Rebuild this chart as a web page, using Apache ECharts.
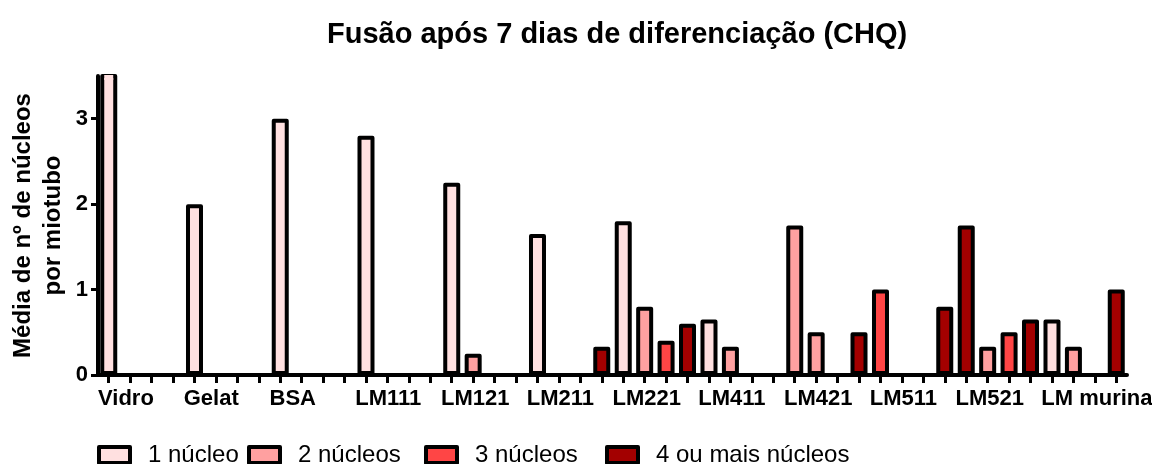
<!DOCTYPE html>
<html>
<head>
<meta charset="utf-8">
<script src="https://cdn.jsdelivr.net/npm/echarts@6/dist/echarts.min.js"></script>
<style>
html, body { margin: 0; padding: 0; background: #fff; }
#chart { width: 1152px; height: 464px; }
</style>
</head>
<body>
<div id="chart"></div>
<script>
// Substrates tested and the mean number of nuclei per myotube, split by nucleus class
const categories = ['Vidro', 'Gelat', 'BSA', 'LM111', 'LM121', 'LM211', 'LM221', 'LM411', 'LM421', 'LM511', 'LM521', 'LM murina'];
const seriesNames = ['1 núcleo', '2 núcleos', '3 núcleos', '4 ou mais núcleos'];
const nucleo1  = [3.6, 2.0, 3.0, 2.8, 2.25, 1.65, 1.8, 0.65, 1.75, 1.0, 1.75, 0.65];
const nucleos2 = [0, 0, 0, 0, 0.25, 0, 0.8, 0.33, 0.5, 0, 0.33, 0.33];
const nucleos3 = [0, 0, 0, 0, 0, 0, 0.4, 0, 0, 0, 0.5, 0];
const nucleos4 = [0, 0, 0, 0, 0, 0.33, 0.6, 0, 0.5, 0.8, 0.65, 1.0];
const yTicks = [0, 1, 2, 3];
const yMax = 3.5;

// Styling
const FONT = '"Liberation Sans", Arial, sans-serif';
const palette = ['#FFE0E0', '#FFA0A0', '#FF4545', '#A30000'];
// first bar of these groups is painted with another class's fill
const firstBarFill = { LM421: 1, LM511: 2, LM521: 3 };
const legendLeft = [92, 242, 419, 600];
const BAR_W = 17;
const BORDER_W = 4;

const seriesValues = [nucleo1, nucleos2, nucleos3, nucleos4];
const slots = Array.from({ length: categories.length * seriesNames.length }, (_, i) => String(i));

const series = seriesNames.map((name, s) => ({
  name,
  type: 'bar',
  xAxisIndex: 0,
  barWidth: BAR_W,
  barGap: '26%',
  clip: true,
  color: palette[s],
  itemStyle: { color: palette[s], borderColor: '#000', borderWidth: BORDER_W, borderJoin: 'round' },
  emphasis: { disabled: true },
  data: seriesValues[s].map((v, i) => {
    const k = s === 0 ? firstBarFill[categories[i]] : undefined;
    return k === undefined ? v : { value: v, itemStyle: { color: palette[k] } };
  })
}));

const chart = echarts.init(document.getElementById('chart'), null, { renderer: 'canvas' });
chart.setOption({
  animation: false,
  backgroundColor: '#fff',
  title: {
    text: 'Fusão após 7 dias de diferenciação (CHQ)',
    left: 322,
    top: 15,
    textStyle: { fontFamily: FONT, fontSize: 29, fontWeight: 'bold', color: '#000' }
  },
  legend: seriesNames.map((name, i) => ({
    data: [name],
    left: legendLeft[i],
    top: 438,
    icon: 'rect',
    itemWidth: 31,
    itemHeight: 16,
    selectedMode: false,
    itemStyle: { borderColor: '#000', borderWidth: 4 },
    formatter: '{gap| }{name}',
    textStyle: {
      fontFamily: FONT, fontSize: 24, color: '#000',
      rich: { gap: { width: 13 } }
    }
  })),
  grid: { left: 98, right: 25, top: 76, bottom: 89, containLabel: false, outerBoundsMode: 'none' },
  xAxis: [
    { type: 'category', data: categories, show: false, position: 'bottom' },
    {
      type: 'category', data: slots, position: 'bottom',
      axisLine: { show: true, lineStyle: { color: '#000', width: 4 } },
      axisTick: { show: true, alignWithLabel: true, interval: 0, length: 8, lineStyle: { color: '#000', width: 3 } },
      axisLabel: { show: false },
      splitLine: { show: false }
    },
    {
      type: 'category', data: categories.concat(['']), boundaryGap: false, position: 'bottom',
      axisLine: { show: false }, axisTick: { show: false }, splitLine: { show: false },
      axisLabel: {
        interval: 0, align: 'left', margin: 13,
        fontFamily: FONT, fontSize: 22, fontWeight: 'bold', color: '#000'
      }
    }
  ],
  yAxis: {
    type: 'value', min: 0, max: yMax,
    axisLine: { show: true, lineStyle: { color: '#000', width: 4 } },
    axisTick: { show: true, length: 7, lineStyle: { color: '#000', width: 3 }, customValues: yTicks },
    axisLabel: { customValues: yTicks, margin: 10, fontFamily: FONT, fontSize: 22, fontWeight: 'bold', color: '#000' },
    splitLine: { show: false },
    name: 'Média de nº de núcleos\npor miotubo',
    nameLocation: 'middle',
    nameGap: 30,
    nameMoveOverlap: false,
    nameTextStyle: { fontFamily: FONT, fontSize: 24, fontWeight: 'bold', color: '#000', lineHeight: 30 }
  },
  series
});

// Bars taller than the axis run off the top of the plot: open their top edge
// by repainting the clipped border with the bar's own fill.
const graphics = [];
seriesValues.forEach((vals, s) => {
  vals.forEach((v, i) => {
    if (v <= yMax) return;
    const slot = String(i * seriesNames.length + s);
    const cx = chart.convertToPixel({ xAxisIndex: 1 }, slot);
    const yTop = chart.convertToPixel({ yAxisIndex: 0 }, yMax);
    const k = s === 0 && firstBarFill[categories[i]] !== undefined ? firstBarFill[categories[i]] : s;
    const inner = BAR_W - 2 * BORDER_W;
    graphics.push({
      type: 'rect', z: 100,
      shape: { x: cx - inner / 2, y: yTop - 1, width: inner, height: BORDER_W + 1 },
      style: { fill: palette[k] }
    });
  });
});
chart.setOption({ graphic: graphics });
</script>
</body>
</html>
